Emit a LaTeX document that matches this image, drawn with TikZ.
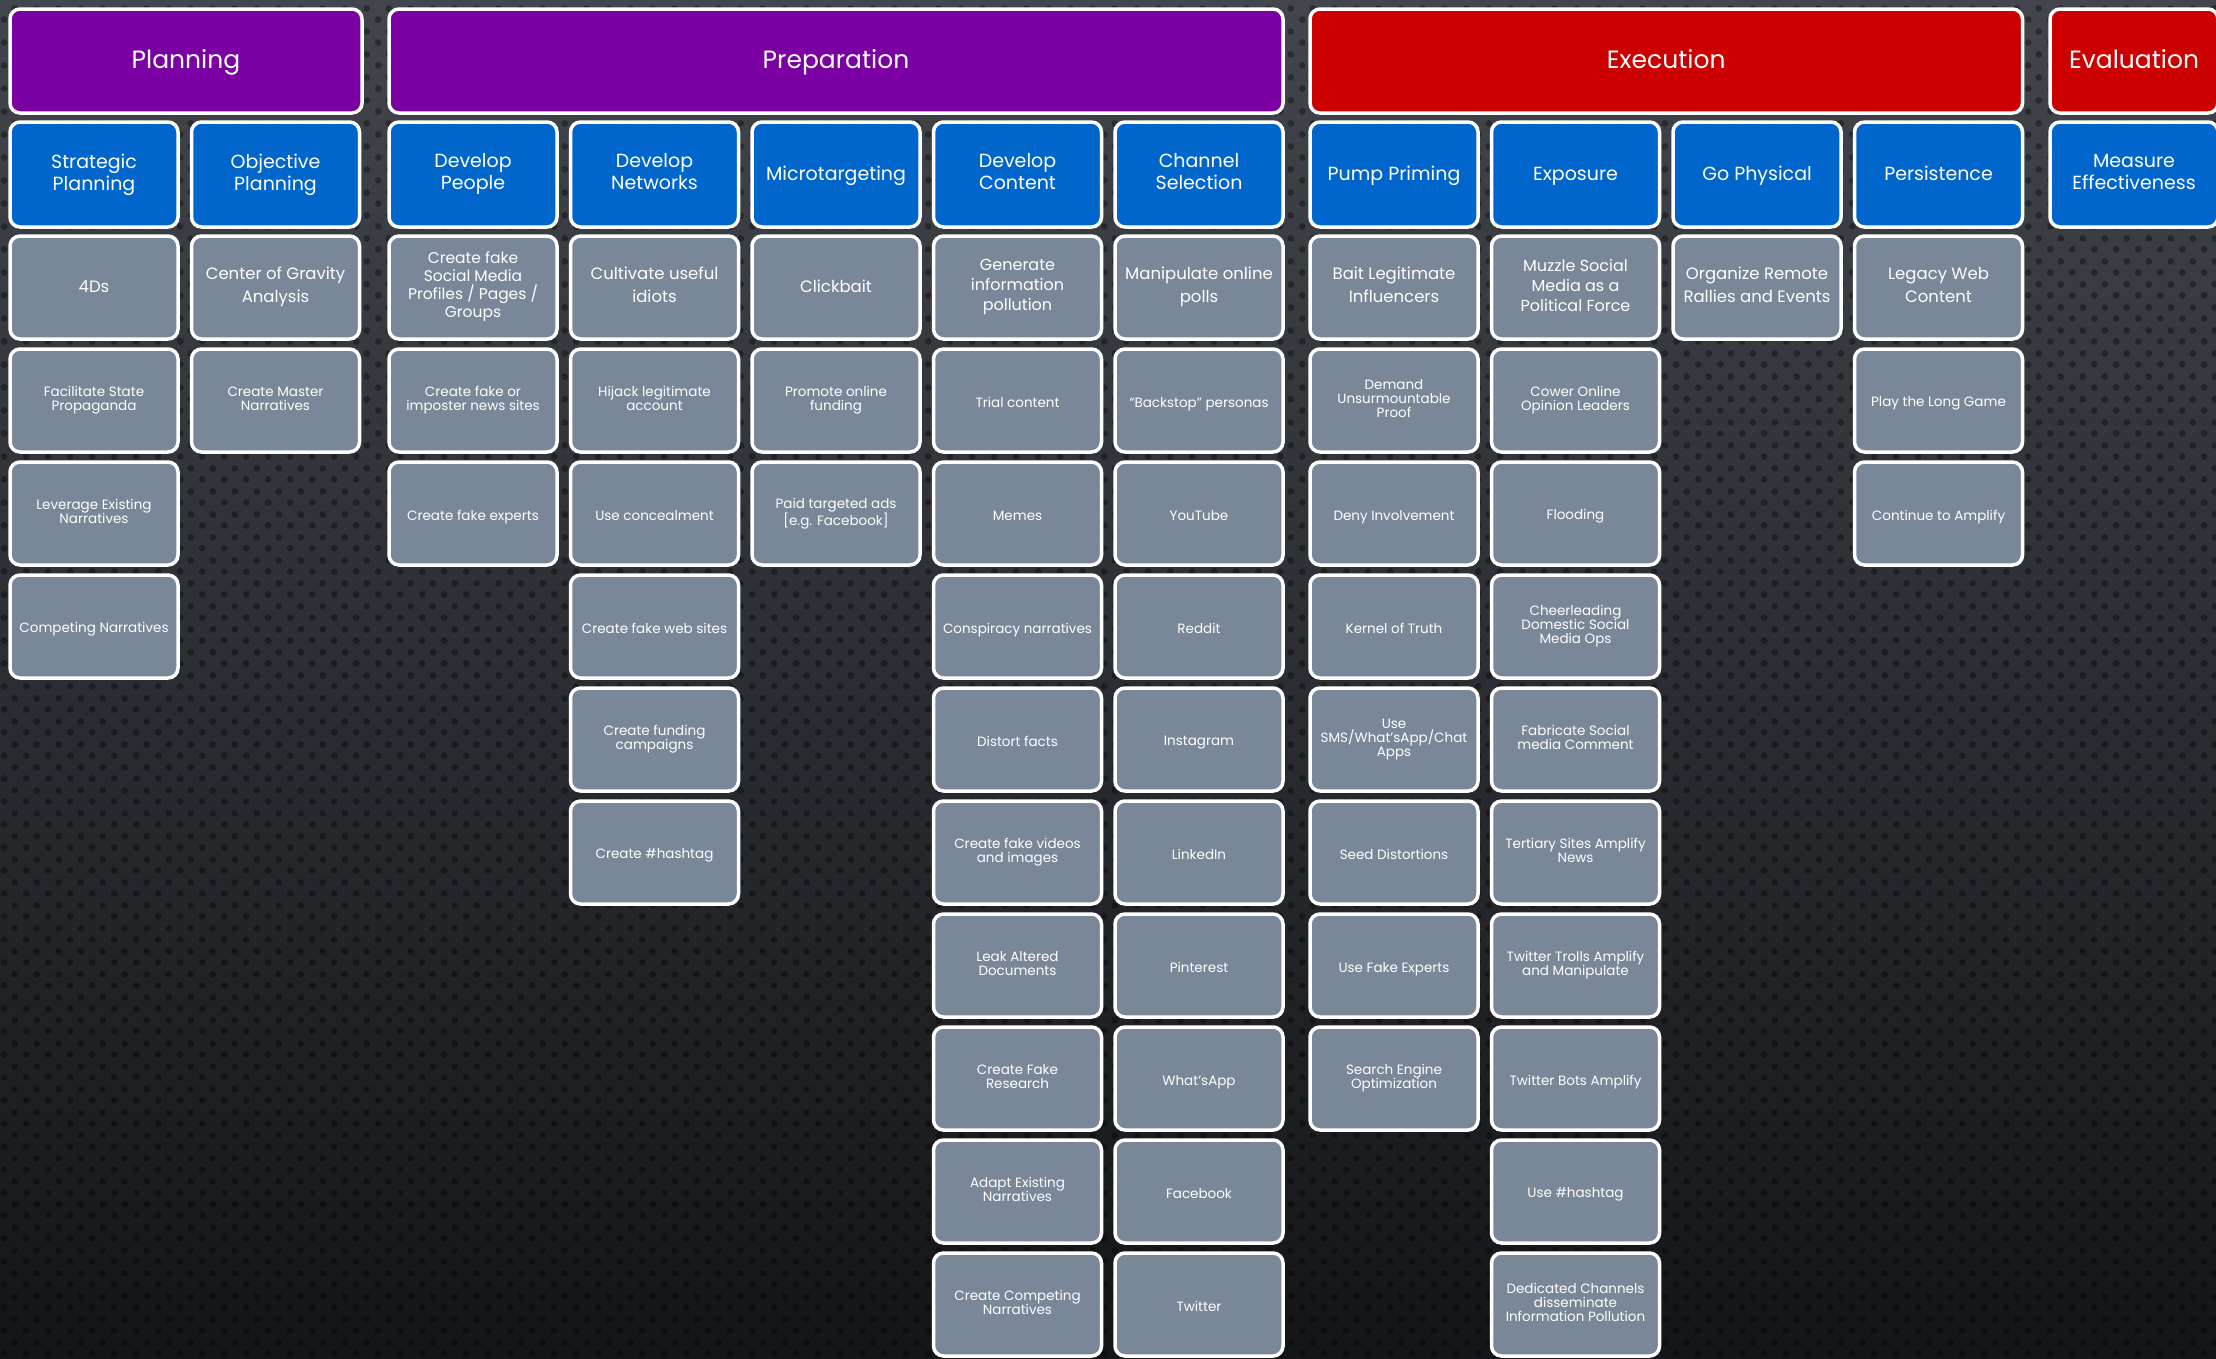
\documentclass[tikz,border=0pt]{standalone}
\usepackage{fontspec}
\setmainfont{Poppins}
\usetikzlibrary{patterns.meta}
\definecolor{bgtop}{RGB}{66,69,75}
\definecolor{bgbot}{RGB}{19,21,24}
\definecolor{ppl}{RGB}{122,0,163}
\definecolor{rd}{RGB}{204,0,0}
\definecolor{bl}{RGB}{0,102,204}
\definecolor{gy}{RGB}{122,135,153}
\newcommand\vstr[2]{\rule[-#2]{0pt}{\dimexpr #1+#2\relax}}
\tikzdeclarepattern{name=bgdots, type=uncolored,
  bounding box={(0pt,0pt) and (22pt,23pt)}, tile size={(22pt,23pt)},
  code={\fill (5.5pt,5.75pt) circle (3.5pt); \fill (16.5pt,17.25pt) circle (3.5pt);}}
\tikzset{sr/.style 2 args = {execute at begin node={\vstr{#1}{#2}}, execute at end node={\vstr{#1}{#2}}},
           lw/.style = {execute at begin node={\rule{0pt}{#1}}},
           bx/.style = {rectangle, rounded corners=10pt, draw=white, line width=3.5pt, text=white, align=center, inner sep=2pt},
           ph/.style = {bx, minimum height=104pt, sr={21pt}{6pt}, font=\fontsize{25}{28}\selectfont},
           tc/.style = {bx, fill=bl, minimum width=168pt, minimum height=105pt, sr={17pt}{5.4pt}, font=\fontsize{19}{22}\selectfont},
           tq/.style = {bx, fill=gy, minimum width=168pt, minimum height=103pt, sr={15pt}{5pt}, font=\fontsize{16.5}{23}\selectfont},
           ts/.style = {bx, fill=gy, minimum width=168pt, minimum height=103pt, sr={16.5pt}{3.5pt}, font=\fontsize{13.5}{14}\selectfont}}

\begin{document}
\begin{tikzpicture}[x=1pt, y=-1pt]
    \useasboundingbox (0,0) rectangle (2216,1358);
    \shade[top color=bgtop, bottom color=bgbot] (0,0) rectangle (2216,1358);
    \fill[pattern=bgdots, pattern color=black, opacity=.35] (0,0) rectangle (2216,1358);
    % phases
    \node[ph, fill=ppl, minimum width=352pt] (pl) at (186,61) {Planning};
    \node[ph, fill=ppl, minimum width=894pt] (pr) at (836,61) {Preparation};
    \node[ph, fill=rd, minimum width=712.5pt] (ex) at (1666.25,61) {Execution};
    \node[ph, fill=rd, minimum width=168pt] (ev) at (2134,61) {Evaluation};
    % tactics
    \node[tc, lw=19.5pt] (sp) at (94,174.5) {Strategic\\Planning}; \node[tc, lw=19.5pt] (op) at (275.5,174.5) {Objective\\Planning};
    \node[tc, lw=19.5pt] (dp) at (473,174.5) {Develop\\People}; \node[tc, lw=19.5pt] (dn) at (654.5,174.5) {Develop\\Networks};
    \node[tc] (mt) at (836,174.5) {Microtargeting}; \node[tc, lw=19.5pt] (dc) at (1017.5,174.5) {Develop\\Content};
    \node[tc, lw=19.5pt] (cs) at (1199,174.5) {Channel\\Selection}; \node[tc] (pp) at (1394,174.5) {Pump Priming};
    \node[tc] (xp) at (1575.5,174.5) {Exposure}; \node[tc] (gp) at (1757,174.5) {Go Physical};
    \node[tc] (ps) at (1938.5,174.5) {Persistence}; \node[tc, lw=19.5pt] (me) at (2134,174.5) {Measure\\Effectiveness};
    % strategic / objective planning
    \node[tq] (sp1) at (94,287.5) {4Ds};
    \node[ts, lw=20.5pt] (sp2) at (94,400.5) {Facilitate State\\Propaganda};
    \node[ts, lw=20.5pt] (sp3) at (94,513.5) {Leverage Existing\\Narratives};
    \node[ts] (sp4) at (94,626.5) {Competing Narratives};
    \node[tq, lw=20.5pt] (op1) at (275.5,287.5) {Center of Gravity\\Analysis};
    \node[ts, lw=20.5pt] (op2) at (275.5,400.5) {Create Master\\Narratives};
    % develop people / networks
    \node[tq, font=\fontsize{15.5}{18}\selectfont] (dp1) at (473,287.5) {Create fake\\Social Media\\Profiles / Pages /\\Groups};
    \node[ts, lw=20.5pt] (dp2) at (473,400.5) {Create fake or\\imposter news sites};
    \node[ts] (dp3) at (473,513.5) {Create fake experts};
    \node[tq, lw=20.5pt] (dn1) at (654.5,287.5) {Cultivate useful\\idiots};
    \node[ts, lw=20.5pt] (dn2) at (654.5,400.5) {Hijack legitimate\\account};
    \node[ts] (dn3) at (654.5,513.5) {Use concealment};
    \node[ts] (dn4) at (654.5,626.5) {Create fake web sites};
    \node[ts, lw=20.5pt] (dn5) at (654.5,739.5) {Create funding\\campaigns};
    \node[ts] (dn6) at (654.5,852.5) {Create \#hashtag};
    % microtargeting
    \node[tq] (mt1) at (836,287.5) {Clickbait};
    \node[ts, lw=20.5pt] (mt2) at (836,400.5) {Promote online\\funding};
    \node[ts, lw=20.5pt] (mt3) at (836,513.5) {Paid targeted ads\\{[e.g. Facebook]}};
    % develop content
    \node[tq, lw=17pt, font=\fontsize{16}{20}\selectfont] (dc1) at (1017.5,287.5) {Generate\\information\\pollution};
    \node[ts] (dc2) at (1017.5,400.5) {Trial content};
    \node[ts] (dc3) at (1017.5,513.5) {Memes};
    \node[ts] (dc4) at (1017.5,626.5) {Conspiracy narratives};
    \node[ts] (dc5) at (1017.5,739.5) {Distort facts};
    \node[ts, lw=20.5pt] (dc6) at (1017.5,852.5) {Create fake videos\\and images};
    \node[ts, lw=20.5pt] (dc7) at (1017.5,965.5) {Leak Altered\\Documents};
    \node[ts, lw=20.5pt] (dc8) at (1017.5,1078.5) {Create Fake\\Research};
    \node[ts, lw=20.5pt] (dc9) at (1017.5,1191.5) {Adapt Existing\\Narratives};
    \node[ts, lw=20.5pt] (dc10) at (1017.5,1304.5) {Create Competing\\Narratives};
    % channel selection
    \node[tq, lw=20.5pt] (cs1) at (1199,287.5) {Manipulate online\\polls};
    \node[ts] (cs2) at (1199,400.5) {“Backstop” personas};
    \node[ts] (cs3) at (1199,513.5) {YouTube};
    \node[ts] (cs4) at (1199,626.5) {Reddit};
    \node[ts] (cs5) at (1199,739.5) {Instagram};
    \node[ts] (cs6) at (1199,852.5) {LinkedIn};
    \node[ts] (cs7) at (1199,965.5) {Pinterest};
    \node[ts] (cs8) at (1199,1078.5) {What’sApp};
    \node[ts] (cs9) at (1199,1191.5) {Facebook};
    \node[ts] (cs10) at (1199,1304.5) {Twitter};
    % pump priming
    \node[tq, lw=20.5pt] (pp1) at (1394,287.5) {Bait Legitimate\\Influencers};
    \node[ts, lw=19pt] (pp2) at (1394,400.5) {Demand\\Unsurmountable\\Proof};
    \node[ts] (pp3) at (1394,513.5) {Deny Involvement};
    \node[ts] (pp4) at (1394,626.5) {Kernel of Truth};
    \node[ts, lw=19pt] (pp5) at (1394,739.5) {Use\\SMS/What’sApp/Chat\\Apps};
    \node[ts] (pp6) at (1394,852.5) {Seed Distortions};
    \node[ts] (pp7) at (1394,965.5) {Use Fake Experts};
    \node[ts, lw=20.5pt] (pp8) at (1394,1078.5) {Search Engine\\Optimization};
    % exposure
    \node[tq, font=\fontsize{16}{20}\selectfont] (xp1) at (1575.5,287.5) {Muzzle Social\\Media as a\\Political Force};
    \node[ts, lw=20.5pt] (xp2) at (1575.5,400.5) {Cower Online\\Opinion Leaders};
    \node[ts] (xp3) at (1575.5,513.5) {Flooding};
    \node[ts, lw=19pt] (xp4) at (1575.5,626.5) {Cheerleading\\Domestic Social\\Media Ops};
    \node[ts, lw=20.5pt] (xp5) at (1575.5,739.5) {Fabricate Social\\media Comment};
    \node[ts, lw=20.5pt] (xp6) at (1575.5,852.5) {Tertiary Sites Amplify\\News};
    \node[ts, lw=20.5pt] (xp7) at (1575.5,965.5) {Twitter Trolls Amplify\\and Manipulate};
    \node[ts] (xp8) at (1575.5,1078.5) {Twitter Bots Amplify};
    \node[ts] (xp9) at (1575.5,1191.5) {Use \#hashtag};
    \node[ts, lw=19pt] (xp10) at (1575.5,1304.5) {Dedicated Channels\\disseminate\\Information Pollution};
    % go physical / persistence
    \node[tq, lw=20.5pt] (gp1) at (1757,287.5) {Organize Remote\\Rallies and Events};
    \node[tq, lw=20.5pt] (ps1) at (1938.5,287.5) {Legacy Web\\Content};
    \node[ts] (ps2) at (1938.5,400.5) {Play the Long Game};
    \node[ts] (ps3) at (1938.5,513.5) {Continue to Amplify};
\end{tikzpicture}
\end{document}
